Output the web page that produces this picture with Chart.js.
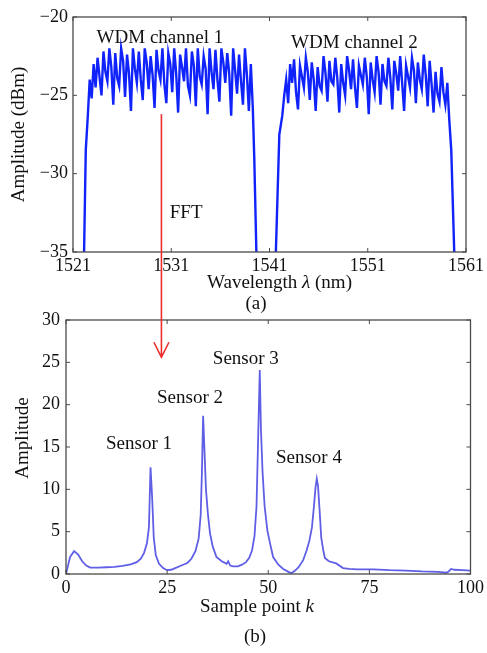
<!DOCTYPE html>
<html>
<head>
<meta charset="utf-8">
<script src="https://cdn.jsdelivr.net/npm/chart.js@4.4.1/dist/chart.umd.min.js"></script>
<style>
  html, body { margin: 0; padding: 0; background: #fff; }
  #wrap { position: relative; width: 487px; height: 653px; }
  canvas { display: block; position: absolute; left: 0; }
  #specChart { top: 0; }
  #fftChart { top: 300px; }
</style>
</head>
<body>
<div id="wrap">
<canvas id="specChart" width="487" height="318"></canvas>
<canvas id="fftChart" width="487" height="353"></canvas>
</div>
<script>
// (a) optical spectrum, sampled every 0.2 nm across the flat top of each channel
const stepNm = 0.2;
const ch1StartNm = 1522.5;
const ch1Db = [
  -26.4, -24.0, -25.2, -23.0, -24.5, -22.6, -23.8, -25.0, -22.2, -23.5,
  -24.1, -22.0, -23.2, -25.6, -22.3, -23.9, -24.4, -22.0, -22.8, -25.1,
  -22.4, -23.6, -26.0, -22.0, -23.3, -24.2, -22.2, -24.0, -25.3, -22.0,
  -22.9, -24.6, -22.5, -23.7, -25.8, -22.1, -23.4, -24.0, -22.0, -24.3,
  -25.5, -22.3, -23.0, -24.8, -22.0, -23.6, -26.1, -22.4, -23.2, -24.1,
  -22.0, -24.4, -25.0, -22.2, -23.1, -25.7, -22.0, -23.8, -24.3, -22.5,
  -23.3, -26.2, -22.0, -23.5, -24.6, -22.1, -24.0, -25.4, -22.0, -22.9,
  -24.2, -22.3, -23.6, -26.3, -22.0, -23.4, -24.9, -22.4, -24.1, -25.6,
  -22.0, -23.7, -26.0, -23.0, -25.8
];
const ch1RiseNm = [1522.1, 1522.3];
const ch1RiseDb = [-36, -28.5];
const ch1FallNm = [1539.45, 1539.7];
const ch1FallDb = [-29, -36];

const ch2StartNm = 1542.5;
const ch2Db = [
  -25.0, -24.0, -25.5, -23.0, -24.2, -22.7, -24.8, -25.9, -23.1, -23.8,
  -24.5, -22.6, -23.5, -25.3, -22.9, -24.0, -26.0, -23.2, -24.4, -24.7,
  -22.5, -23.6, -25.4, -22.8, -24.1, -24.3, -22.6, -23.9, -26.1, -23.0,
  -24.2, -25.0, -22.5, -23.4, -24.6, -22.7, -24.5, -25.8, -23.1, -23.7,
  -24.3, -22.6, -23.8, -26.2, -22.9, -24.0, -24.8, -22.5, -23.5, -25.6,
  -23.0, -24.1, -24.4, -22.6, -23.9, -25.9, -22.8, -23.6, -24.7, -22.5,
  -24.2, -26.0, -23.1, -23.8, -24.5, -22.6, -23.4, -25.5, -22.9, -24.0,
  -24.6, -22.4, -23.7, -25.7, -22.8, -24.3, -26.1, -23.5, -24.9, -25.4,
  -23.2, -24.8, -25.6, -24.2
];
const ch2RiseNm = [1541.6, 1542.0, 1542.3];
const ch2RiseDb = [-36, -27.5, -26.3];
const ch2FallNm = [1559.3, 1559.5, 1559.85];
const ch2FallDb = [-26.6, -28.5, -36];

const wlTicks = [1521, 1531, 1541, 1551, 1561];
const dbTicks = [-20, -25, -30, -35];

// (b) FFT of the spectrum
const sampleK = [
  0, 1, 2, 3, 4, 5, 6, 8, 10, 12,
  14, 16, 17.5, 18.5, 19.3, 20, 20.5, 20.9, 21.3, 21.7,
  22.2, 23, 24, 25, 26, 27, 28.5, 30, 31, 32,
  32.8, 33.3, 33.6, 33.9, 34.2, 34.6, 35.1, 35.6, 36.3, 37.2,
  38.5, 39.7, 40.1, 40.6, 41.3, 42.5, 43.5, 44.5, 45.3, 46,
  46.6, 47.1, 47.5, 47.9, 48.2, 48.6, 49.1, 49.8, 50.5, 51.2,
  52.5, 53.7, 55, 55.7, 56.5, 57.5, 58.6, 59.5, 60.2, 60.8,
  61.3, 61.7, 62.0, 62.3, 62.7, 63.1, 63.6, 64.0, 65, 66.8,
  68.5, 70, 72, 76, 80, 84, 88, 92, 94, 94.6,
  95.2, 96, 98, 100
];
const fftAmp = [
  0, 2.0, 2.7, 2.3, 1.5, 1.0, 0.75, 0.75, 0.8, 0.85,
  0.95, 1.15, 1.4, 1.8, 2.5, 3.6, 5.5, 12.6, 9, 4.3,
  2.2, 1.2, 0.7, 0.45, 0.5, 0.7, 1.0, 1.3, 1.8, 2.7,
  4.2, 7, 12, 18.7, 15, 10, 7, 4.8, 3.2, 2.0,
  1.5, 1.2, 1.5, 1.0, 0.9, 0.9, 1.1, 1.4, 1.9, 2.8,
  4.5, 8, 16, 24.1, 17, 12, 8, 5.1, 3.5, 2.0,
  1.1, 0.6, 0.25, 0.1, 0.35, 0.8, 1.6, 2.8, 4.0, 5.5,
  8, 10.3, 11.25, 10.4, 7.5, 4.3, 2.8, 1.9, 1.5, 1.25,
  0.7, 0.6, 0.55, 0.55, 0.45, 0.4, 0.3, 0.25, 0.15, 0.3,
  0.6, 0.5, 0.45, 0.4
];
const kTicks = [0, 25, 50, 75, 100];
const ampTicks = [0, 5, 10, 15, 20, 25, 30];

const sensorNames = ['Sensor 1', 'Sensor 2', 'Sensor 3', 'Sensor 4'];
const sensorK = [9.9, 22.5, 36.3, 51.9];
const sensorAmp = [15.4, 20.8, 25.4, 13.7];

const SERIF = '"Liberation Serif", "Times New Roman", serif';
const INK = '#111';
const BOX = '#4a4a4a';
const ARROW = 'rgb(238, 45, 45)';
const FFT_TOP = 300; // page offset of the lower canvas

function pts(xs, ys) {
  return xs.map((x, i) => ({ x: x, y: ys[i] }));
}
function gridPts(start, ys) {
  return ys.map((y, i) => ({ x: +(start + i * stepNm).toFixed(2), y: y }));
}
const ch1Points = pts(ch1RiseNm, ch1RiseDb).concat(gridPts(ch1StartNm, ch1Db), pts(ch1FallNm, ch1FallDb));
const ch2Points = pts(ch2RiseNm, ch2RiseDb).concat(gridPts(ch2StartNm, ch2Db), pts(ch2FallNm, ch2FallDb));

const minus = v => String(v).replace('-', '\u2212');

// draws text made of plain / italic pieces, centred on (cx, cy)
function drawRich(ctx, parts, cx, cy, size, rotate) {
  ctx.save();
  ctx.translate(cx, cy);
  if (rotate) ctx.rotate(-Math.PI / 2);
  ctx.textBaseline = 'middle';
  ctx.textAlign = 'left';
  ctx.fillStyle = INK;
  let total = 0;
  parts.forEach(p => {
    ctx.font = (p[1] ? 'italic ' : '') + size + 'px ' + SERIF;
    total += ctx.measureText(p[0]).width;
  });
  let x = -total / 2;
  parts.forEach(p => {
    ctx.font = (p[1] ? 'italic ' : '') + size + 'px ' + SERIF;
    ctx.fillText(p[0], x, 0);
    x += ctx.measureText(p[0]).width;
  });
  ctx.restore();
}

function drawFrame(chart, xTicks, yTicks) {
  const { ctx, chartArea: a, scales } = chart;
  ctx.save();
  ctx.strokeStyle = BOX;
  ctx.lineWidth = 1.3;
  ctx.strokeRect(a.left, a.top, a.right - a.left, a.bottom - a.top);
  ctx.lineWidth = 1;
  ctx.beginPath();
  xTicks.forEach(v => {
    const px = scales.x.getPixelForValue(v);
    ctx.moveTo(px, a.bottom); ctx.lineTo(px, a.bottom - 4);
    ctx.moveTo(px, a.top); ctx.lineTo(px, a.top + 4);
  });
  yTicks.forEach(v => {
    const py = scales.y.getPixelForValue(v);
    ctx.moveTo(a.left, py); ctx.lineTo(a.left + 4, py);
    ctx.moveTo(a.right, py); ctx.lineTo(a.right - 4, py);
  });
  ctx.stroke();
  ctx.restore();
}

function axisCommon(ticks, min, max, size, pad) {
  return {
    type: 'linear',
    min: min,
    max: max,
    afterBuildTicks: s => { s.ticks = ticks.map(v => ({ value: v })); },
    grid: { display: false, drawTicks: false },
    border: { display: false },
    ticks: {
      autoSkip: false,
      maxRotation: 0,
      padding: pad,
      color: INK,
      font: { family: SERIF, size: 18 },
      callback: v => minus(v)
    },
    afterFit: s => {
      if (s.isHorizontal()) s.height = size; else s.width = size;
    }
  };
}

const ARROW_NM = 1530;

const specPlugin = {
  id: 'specDecor',
  afterDatasetsDraw(chart) {
    const { ctx, chartArea: a, scales } = chart;
    drawFrame(chart, wlTicks, dbTicks);
    ctx.save();
    ctx.fillStyle = INK;
    ctx.font = '19px ' + SERIF;
    ctx.textBaseline = 'middle';
    ctx.textAlign = 'left';
    ctx.fillText('WDM channel 1', scales.x.getPixelForValue(1523.4), scales.y.getPixelForValue(-21.34));
    ctx.fillText('WDM channel 2', scales.x.getPixelForValue(1543.2), scales.y.getPixelForValue(-21.66));
    ctx.fillText('FFT', scales.x.getPixelForValue(1530.85), scales.y.getPixelForValue(-32.5));
    // arrow shaft, continued on the FFT chart
    const ax = scales.x.getPixelForValue(ARROW_NM);
    ctx.strokeStyle = ARROW;
    ctx.lineWidth = 1.6;
    ctx.beginPath();
    ctx.moveTo(ax, scales.y.getPixelForValue(-26.2));
    ctx.lineTo(ax, FFT_TOP);
    ctx.stroke();
    ctx.restore();
    drawRich(ctx, [['Wavelength ', false], ['\u03bb', true], [' (nm)', false]], (a.left + a.right) / 2 + 10, 283, 19);
    drawRich(ctx, [['(a)', false]], 256, 304, 19);
    drawRich(ctx, [['Amplitude (dBm)', false]], 19, (a.top + a.bottom) / 2, 19, true);
  }
};

const specChart = new Chart(document.getElementById('specChart'), {
  type: 'line',
  data: {
    datasets: [
      { data: ch1Points, borderColor: 'rgb(15, 35, 250)', borderWidth: 2.4, pointRadius: 0, tension: 0 },
      { data: ch2Points, borderColor: 'rgb(15, 35, 250)', borderWidth: 2.4, pointRadius: 0, tension: 0 }
    ]
  },
  options: {
    responsive: false,
    animation: false,
    events: [],
    layout: { padding: { left: 0, right: 20, top: 17, bottom: 0 } },
    plugins: { legend: { display: false }, tooltip: { enabled: false } },
    scales: {
      x: axisCommon(wlTicks, 1521, 1561, 66, 3),
      y: axisCommon(dbTicks, -35, -20, 73, 5)
    }
  },
  plugins: [specPlugin]
});

const fftPlugin = {
  id: 'fftDecor',
  afterDatasetsDraw(chart) {
    const { ctx, scales } = chart;
    drawFrame(chart, kTicks, ampTicks);
    ctx.save();
    ctx.fillStyle = INK;
    ctx.font = '19px ' + SERIF;
    ctx.textBaseline = 'middle';
    ctx.textAlign = 'left';
    sensorNames.forEach((name, i) => {
      ctx.fillText(name, scales.x.getPixelForValue(sensorK[i]), scales.y.getPixelForValue(sensorAmp[i]));
    });
    // arrow coming down from the spectrum chart
    const ax = specChart.scales.x.getPixelForValue(ARROW_NM);
    const tipY = scales.y.getPixelForValue(25.6);
    ctx.strokeStyle = ARROW;
    ctx.lineWidth = 1.6;
    ctx.beginPath();
    ctx.moveTo(ax, 0);
    ctx.lineTo(ax, tipY);
    ctx.moveTo(ax - 7.5, tipY - 15);
    ctx.lineTo(ax, tipY);
    ctx.lineTo(ax + 7.5, tipY - 15);
    ctx.stroke();
    ctx.restore();
    drawRich(ctx, [['Sample point ', false], ['k', true]], 257, 307, 19);
    drawRich(ctx, [['(b)', false]], 255, 337, 19);
    drawRich(ctx, [['Amplitude', false]], 23, 138, 19, true);
  }
};

const fftChart = new Chart(document.getElementById('fftChart'), {
  type: 'line',
  data: {
    datasets: [
      { data: pts(sampleK, fftAmp), borderColor: 'rgb(95, 95, 230)', borderWidth: 1.8, pointRadius: 0, tension: 0 }
    ]
  },
  options: {
    responsive: false,
    animation: false,
    events: [],
    layout: { padding: { left: 0, right: 16, top: 20, bottom: 0 } },
    plugins: { legend: { display: false }, tooltip: { enabled: false } },
    scales: {
      x: axisCommon(kTicks, 0, 100, 79, 3),
      y: axisCommon(ampTicks, 0, 30, 66, 6)
    }
  },
  plugins: [fftPlugin]
});
</script>
</body>
</html>
